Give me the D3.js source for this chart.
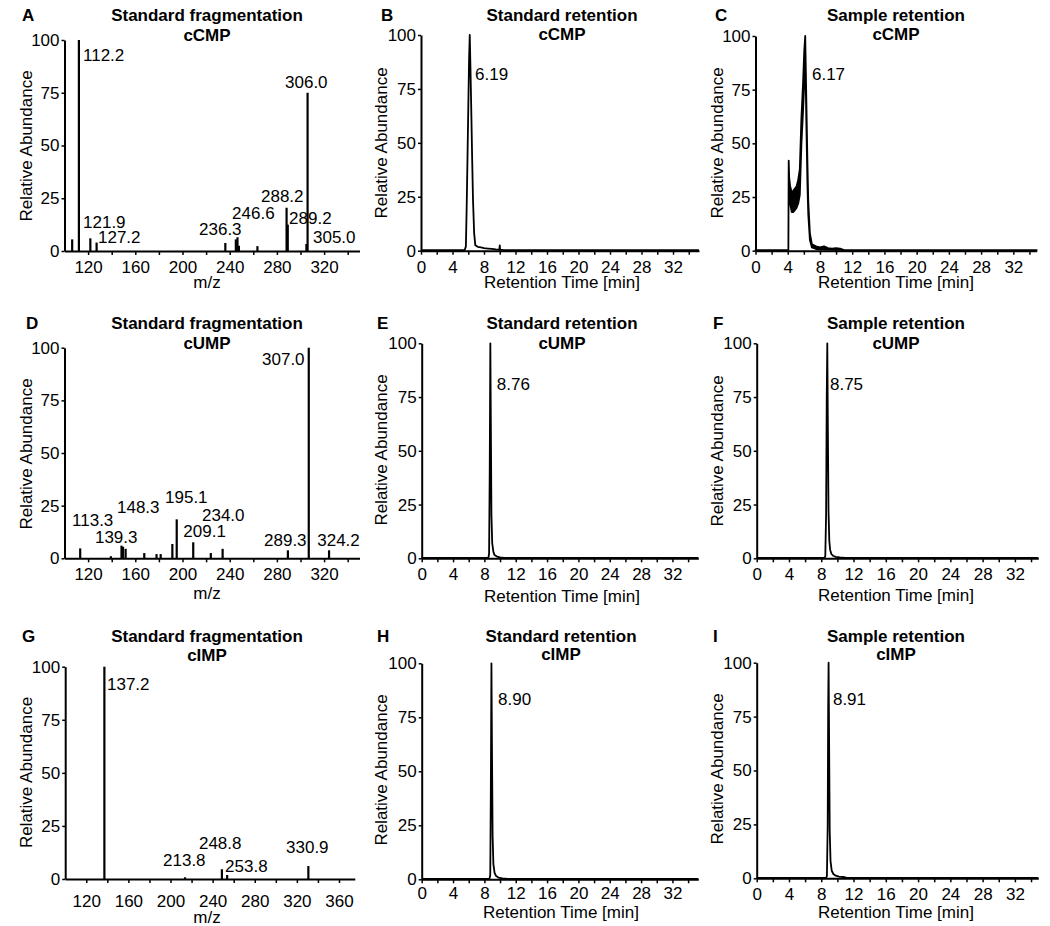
<!DOCTYPE html>
<html><head><meta charset="utf-8">
<script src="https://cdn.jsdelivr.net/npm/d3@7"></script>
<style>
body{margin:0;background:#fff}
svg text{font-family:"Liberation Sans",Arial,Helvetica,sans-serif;fill:#000}
</style></head><body>
<svg id="chart" width="1050" height="926"></svg>
<script>
// ===================== DATA =====================
const panelIds = ["A","B","C","D","E","F","G","H","I"];
const panelTitles = ["Standard fragmentation","Standard retention","Sample retention",
                     "Standard fragmentation","Standard retention","Sample retention",
                     "Standard fragmentation","Standard retention","Sample retention"];
const compounds = ["cCMP","cUMP","cIMP"];
const yTickValues = [0,25,50,75,100];
const yAxisTitle = "Relative Abundance";
const msAxisTitle = "m/z";
const lcAxisTitle = "Retention Time [min]";

// axis extents / ticks
const mzDomain = [100,350];
const mzDomainG = [100,375];
const mzTicks = [120,140,160,180,200,220,240,260,280,300,320,340];
const mzTicksG = [120,140,160,180,200,220,240,260,280,300,320,340,360];
const mzTickLabels = [120,160,200,240,280,320,360];
const timeDomainStd = [0,35.3];
const timeDomainSmp = [0,34.9];
const timeTicks = [0,2,4,6,8,10,12,14,16,18,20,22,24,26,28,30,32,34];
const timeTickLabels = [0,4,8,12,16,20,24,28,32];

// --- A: cCMP fragmentation spectrum
const cCMP_mz  = [106.5,112.2,121.9,127.2,236.3,245.2,246.6,247.8,263.5,288.2,289.2,305.0,306.0];
const cCMP_int = [5.5,100,6,4,3.8,5.5,6.5,2.5,2.3,20.5,12.5,3.3,75];
const cCMP_lab    = ["112.2","121.9","127.2","236.3","246.6","288.2","289.2","306.0","305.0"];
const cCMP_labMz  = [115.7,115.7,128.4,214,242,266.5,290.3,286.9,310.6];
const cCMP_labInt = [90,11,3.6,7.8,15.4,23.2,12.8,77.3,3.8];

// --- D: cUMP fragmentation spectrum
const cUMP_mz  = [113.3,139.3,148.3,149.6,151.8,167.6,178,181.5,191.4,195.1,209.1,224,234.0,289.3,307.0,324.2];
const cUMP_int = [4.7,1,6,5.5,4.5,2.5,2,2,6.8,18.5,7.6,2.5,4.5,3.8,100,3.8];
const cUMP_lab    = ["113.3","139.3","148.3","195.1","234.0","209.1","289.3","324.2","307.0"];
const cUMP_labMz  = [106.4,125.8,144.5,185.2,216.5,200.7,269.1,314.2,267.4];
const cUMP_labInt = [15.5,7.3,21.5,26.4,17.9,10.3,5.8,5.8,91.8];

// --- G: cIMP fragmentation spectrum
const cIMP_mz  = [137.2,213.8,248.8,253.8,330.9];
const cIMP_int = [100,0.8,4.6,1.9,6.1];
const cIMP_lab    = ["137.2","213.8","248.8","253.8","330.9"];
const cIMP_labMz  = [139.7,192.9,227,251.8,309.7];
const cIMP_labInt = [89,6.1,14,3.4,12.1];

// --- B: cCMP standard chromatogram
const B_time = [0,5.55,5.7,5.8,5.9,6.0,6.1,6.19,6.28,6.4,6.5,6.6,6.75,6.9,7.2,7.6,8.0,8.5,9.0,9.5,9.95,10.0,10.05,10.5,11.0,35.3];
const B_int  = [0.3,0.3,2,20,42,65,88,100,85,62,42,24,8,2.5,1.8,1.5,1.2,1,0.8,0.6,0.5,2.5,0.5,0.3,0.2,0.2];
// --- C: cCMP sample chromatogram (noisy trace: upper / lower envelope)
const C_time  = [0,4.08,4.12,4.18,4.3,4.5,4.7,4.9,5.1,5.3,5.5,5.7,5.9,6.05,6.17,6.3,6.45,6.55,6.75,7.0,7.5,8.0,8.5,9.0,9.5,10.0,10.5,11.0,34.9];
const C_upper = [0.3,0.3,42,34,30,27,28,29,30,33,38,62,78,93,100,72,40,23,8,3,2,1.5,2,1.2,1,1.2,1,0.3,0.3];
const C_lower = [0.3,0.3,38,25,22,18,18,19,20,22,26,50,65,78,95,62,30,17,5,1.5,0.8,0.6,0.5,0.5,0.4,0.4,0.4,0.3,0.3];
// --- E: cUMP standard
const E_time = [0,8.5,8.6,8.68,8.76,8.82,8.9,9.0,9.15,9.3,9.6,10.0,10.5,35.3];
const E_int  = [0.2,0.2,2,40,100,65,20,7,3,1.5,0.8,0.4,0.2,0.2];
// --- F: cUMP sample
const F_time = [0,8.4,8.5,8.6,8.68,8.75,8.82,8.9,9.0,9.1,9.25,9.45,9.8,10.3,11.0,34.9];
const F_int  = [0.2,0.2,1,20,75,100,60,22,8,4,2,1.2,0.7,0.4,0.2,0.2];
// --- H: cIMP standard
const H_time = [0,8.65,8.75,8.82,8.9,8.96,9.05,9.15,9.3,9.5,9.8,10.3,11.0,35.3];
const H_int  = [0.2,0.2,2,40,100,65,20,7,3,1.5,0.8,0.4,0.2,0.2];
// --- I: cIMP sample
const I_time = [0,8.6,8.7,8.8,8.86,8.91,8.98,9.05,9.15,9.3,9.5,9.8,10.2,10.8,11.2,34.9];
const I_int  = [0.2,0.2,1,25,80,100,60,22,8,3.5,2,1.2,0.8,0.6,0.2,0.2];

// retention-time annotations [label, time of left edge, intensity of baseline]
const rtLabels   = ["6.19","6.17","8.76","8.75","8.90","8.91"];
const rtLabTime  = [6.86,7.01,9.58,9.08,9.75,9.45];
const rtLabInt   = [79.1,79.5,78.3,78.3,80.7,80.4];

// ===================== LAYOUT (positions / styles) =====================
const layout = {
 A:{xr:[64.5,359.5], yr:[251,40],     tickY:273,   xTitleY:288,   cx:207, titleY:21,  subY:41,  letterX:22,  yLabX:32,    yLabY:146},
 B:{xr:[421,699],    yr:[250.7,35],   tickY:273,   xTitleY:288,   cx:562, titleY:21,  subY:40,  letterX:381, yLabX:386.5, yLabY:143},
 C:{xr:[755.5,1036.7],yr:[250.7,36],  tickY:273,   xTitleY:288,   cx:896, titleY:21,  subY:40,  letterX:715, yLabX:723,   yLabY:143},
 D:{xr:[64.5,359.5], yr:[558.3,347.7],tickY:580,   xTitleY:599,   cx:207, titleY:329, subY:349, letterX:26,  yLabX:31.5,  yLabY:454},
 E:{xr:[421.7,698.3],yr:[558.3,343.3],tickY:580,   xTitleY:601.5, cx:562, titleY:329, subY:349, letterX:377, yLabX:386.5, yLabY:450},
 F:{xr:[756.7,1038.3],yr:[558.3,343.3],tickY:580,  xTitleY:600.5, cx:896, titleY:329, subY:349, letterX:713, yLabX:723,   yLabY:451},
 G:{xr:[65.2,354.8], yr:[879,666.7],  tickY:907,   xTitleY:922.5, cx:207, titleY:642, subY:661, letterX:22,  yLabX:31.5,  yLabY:772.5},
 H:{xr:[421.7,698.3],yr:[879.3,663.3],tickY:899,   xTitleY:918,   cx:561, titleY:642, subY:660, letterX:377, yLabX:386.5, yLabY:770},
 I:{xr:[756.7,1038.3],yr:[878.3,662.7],tickY:900,  xTitleY:918,   cx:896, titleY:642, subY:660, letterX:713, yLabX:723,   yLabY:769}
};
const FS = 17;

// ===================== DRAW =====================
const svg = d3.select("#chart");

function frame(id, idx, xDomain, xTicks, xLabels, xTitle){
  const P = layout[id];
  const g = svg.append("g").attr("class","panel-"+id);
  const x = d3.scaleLinear().domain(xDomain).range(P.xr);
  const y = d3.scaleLinear().domain([0,100]).range(P.yr);

  const yAx = g.append("g").attr("transform",`translate(${P.xr[0]},0)`)
    .call(d3.axisLeft(y).tickValues(yTickValues).tickSize(3).tickPadding(2).tickSizeOuter(0));
  const xAx = g.append("g").attr("transform",`translate(0,${P.yr[0]})`)
    .call(d3.axisBottom(x).tickValues(xTicks).tickSize(4).tickSizeOuter(0)
          .tickFormat(d => xLabels.includes(d) ? String(d) : ""));
  [yAx,xAx].forEach(a=>{
    a.attr("font-family",null).attr("font-size",FS);
    a.select(".domain").attr("stroke","#000").attr("stroke-width",2);
    a.selectAll(".tick line").attr("stroke","#000").attr("stroke-width",1.5);
  });
  xAx.selectAll(".tick text").attr("y", P.tickY - P.yr[0]).attr("dy", null);

  // titles
  g.append("text").attr("x",P.letterX).attr("y",P.titleY).attr("font-size",FS).attr("font-weight","bold").text(id);
  g.append("text").attr("x",P.cx).attr("y",P.titleY).attr("text-anchor","middle").attr("font-size",FS).attr("font-weight","bold").text(panelTitles[idx]);
  g.append("text").attr("x",P.cx).attr("y",P.subY).attr("text-anchor","middle").attr("font-size",FS).attr("font-weight","bold").text(compounds[Math.floor(idx/3)]);
  g.append("text").attr("transform",`translate(${P.yLabX},${P.yLabY}) rotate(-90)`).attr("text-anchor","middle").attr("font-size",FS).text(yAxisTitle);
  g.append("text").attr("x",P.cx).attr("y",P.xTitleY).attr("text-anchor","middle").attr("font-size",FS).text(xTitle);
  return {g,x,y};
}

function spectrum(id, idx, dom, ticks, mz, inten, lab, labMz, labInt){
  const {g,x,y} = frame(id, idx, dom, ticks, mzTickLabels, msAxisTitle);
  g.append("g").selectAll("line").data(mz.map((m,i)=>({m,v:inten[i]}))).join("line")
    .attr("x1",d=>x(d.m)).attr("x2",d=>x(d.m)).attr("y1",y(0)).attr("y2",d=>y(d.v))
    .attr("stroke","#000").attr("stroke-width",2.2);
  g.append("g").selectAll("text").data(lab.map((t,i)=>({t,m:labMz[i],v:labInt[i]}))).join("text")
    .attr("x",d=>x(d.m)).attr("y",d=>y(d.v)).attr("font-size",FS).text(d=>d.t);
}

function chrom(id, idx, dom, time, inten, k){
  const {g,x,y} = frame(id, idx, dom, timeTicks, timeTickLabels, lcAxisTitle);
  const pts = time.map((t,i)=>[t,inten[i]]);
  g.append("path").attr("d", d3.line().x(d=>x(d[0])).y(d=>y(d[1]))(pts))
    .attr("fill","none").attr("stroke","#000").attr("stroke-width",1.8).attr("stroke-linejoin","round");
  g.append("text").attr("x",x(rtLabTime[k])).attr("y",y(rtLabInt[k])).attr("font-size",FS).text(rtLabels[k]);
  return {g,x,y};
}

spectrum("A",0,mzDomain,mzTicks,cCMP_mz,cCMP_int,cCMP_lab,cCMP_labMz,cCMP_labInt);
spectrum("D",3,mzDomain,mzTicks,cUMP_mz,cUMP_int,cUMP_lab,cUMP_labMz,cUMP_labInt);
spectrum("G",6,mzDomainG,mzTicksG,cIMP_mz,cIMP_int,cIMP_lab,cIMP_labMz,cIMP_labInt);

chrom("B",1,timeDomainStd,B_time,B_int,0);
// C: noisy band
(function(){
  const {g,x,y} = frame("C",2,timeDomainSmp,timeTicks,timeTickLabels,lcAxisTitle);
  const pts = C_time.map((t,i)=>({t,u:C_upper[i],l:C_lower[i]}));
  g.append("path").attr("d", d3.area().x(d=>x(d.t)).y0(d=>y(d.l)).y1(d=>y(d.u))(pts))
    .attr("fill","#000").attr("stroke","#000").attr("stroke-width",1.8).attr("stroke-linejoin","round");
  g.append("text").attr("x",x(rtLabTime[1])).attr("y",y(rtLabInt[1])).attr("font-size",FS).text(rtLabels[1]);
})();
chrom("E",4,timeDomainStd,E_time,E_int,2);
chrom("F",5,timeDomainSmp,F_time,F_int,3);
chrom("H",7,timeDomainStd,H_time,H_int,4);
chrom("I",8,timeDomainSmp,I_time,I_int,5);
</script>
</body></html>
